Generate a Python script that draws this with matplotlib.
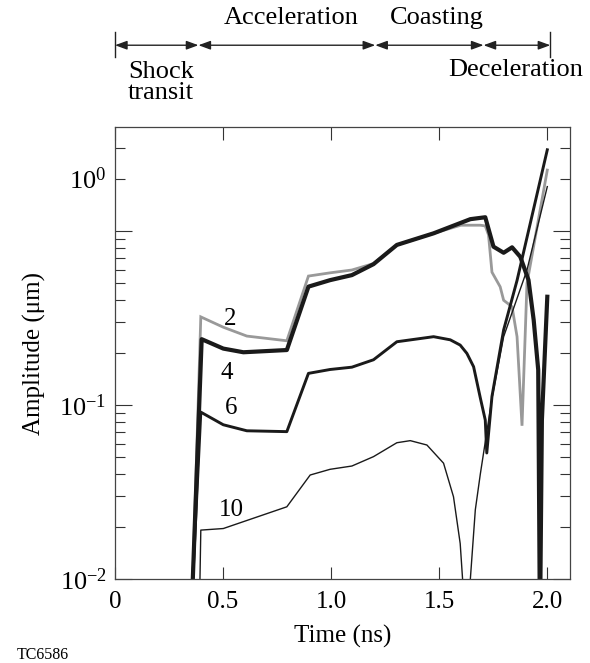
import numpy as np
import matplotlib
matplotlib.use("Agg")
import matplotlib.pyplot as plt
import matplotlib.transforms as mtransforms
from matplotlib.ticker import FixedLocator, FuncFormatter, NullLocator

# mode amplitudes vs time, one series per Legendre mode number
t_2 = [0.36, 0.397, 0.501, 0.61, 0.795, 0.895, 0.995, 1.096, 1.196, 1.304,
       1.474, 1.60, 1.69, 1.713, 1.728, 1.744, 1.782, 1.798, 1.837, 1.86,
       1.883, 1.906, 2.0]
a_2 = [0.01, 0.321, 0.280, 0.249, 0.234, 0.551, 0.575, 0.597, 0.65, 0.832,
       0.97, 1.08, 1.08, 1.07, 0.95, 0.58, 0.478, 0.40, 0.367, 0.247,
       0.076, 0.50, 2.24]

t_4 = [0.36, 0.401, 0.501, 0.594, 0.795, 0.895, 0.995, 1.096, 1.196, 1.304,
       1.474, 1.644, 1.713, 1.751, 1.798, 1.837, 1.875, 1.913, 1.937, 1.958,
       1.966, 1.975, 2.0]
a_4 = [0.01, 0.239, 0.211, 0.201, 0.207, 0.479, 0.522, 0.558, 0.645, 0.832,
       0.97, 1.17, 1.20, 0.813, 0.750, 0.806, 0.711, 0.523, 0.308, 0.159,
       0.005, 0.082, 0.419]

t_6 = [0.36, 0.397, 0.501, 0.61, 0.795, 0.895, 0.995, 1.096, 1.196, 1.304,
       1.474, 1.551, 1.597, 1.628, 1.659, 1.69, 1.713, 1.72, 1.744, 1.798,
       1.86, 2.0]
a_6 = [0.01, 0.091, 0.077, 0.0711, 0.0703, 0.152, 0.160, 0.165, 0.182, 0.231,
       0.247, 0.237, 0.221, 0.198, 0.166, 0.11, 0.082, 0.053, 0.112, 0.27,
       0.52, 2.93]

t_10 = [0.389, 0.397, 0.501, 0.795, 0.903, 0.995, 1.096, 1.196, 1.304, 1.366,
        1.443, 1.52, 1.566, 1.597, 1.608, 1.625, 1.644, 1.667, 1.69, 1.744,
        1.798, 1.852, 1.906, 2.0]
a_10 = [0.005, 0.0191, 0.0195, 0.026, 0.0396, 0.0427, 0.0446, 0.0505, 0.0607, 0.0624,
        0.0589, 0.0463, 0.0297, 0.016, 0.01, 0.004, 0.01, 0.025, 0.04, 0.109,
        0.247, 0.384, 0.597, 1.80]

phase_edges = [0.0, 0.386, 1.204, 1.705, 2.014]

plt.rcParams.update({
    "font.family": "Liberation Serif",
    "mathtext.fontset": "custom",
    "mathtext.rm": "Liberation Serif",
    "mathtext.it": "Liberation Serif:italic",
    "font.size": 18,
})

fig = plt.figure(figsize=(5.9, 6.63), dpi=100)
ax = fig.add_axes([0.1949, 0.1267, 0.7712, 0.6817])

ax.plot(t_2, a_2, color="#999999", lw=2.0, solid_joinstyle="miter")
ax.plot(t_4, a_4, color="#1a1a1a", lw=3.0)
ax.plot(t_6, a_6, color="#1a1a1a", lw=2.1)
ax.plot(t_10, a_10, color="#1a1a1a", lw=1.0)

ax.set_yscale("log")
ax.set_xlim(0, 2.105)
ax.set_ylim(0.01, 3.96)

ax.set_xticks([0, 0.5, 1.0, 1.5, 2.0])
ax.set_xticklabels(["0", "0.5", "1.0", "1.5", "2.0"])
ax.xaxis.set_minor_locator(NullLocator())

ax.yaxis.set_major_locator(FixedLocator([0.01, 0.1, 1.0]))
ax.yaxis.set_major_formatter(FuncFormatter(
    lambda v, pos: {0.01: r"$10^{-2}$", 0.1: r"$10^{-1}$"}.get(round(v, 3), "")))
minor_y = [k * 0.01 for k in range(2, 10)] + [k * 0.1 for k in range(2, 10)] + [2.0, 3.0]
ax.yaxis.set_minor_locator(FixedLocator(minor_y))
ax.yaxis.set_minor_formatter(FuncFormatter(
    lambda v, pos: r"$10^{0}$" if abs(v - 2.0) < 1e-6 else ""))

ax.tick_params(axis="x", which="major", direction="in", length=9, width=0.8,
               top=True, pad=9, color="#333333")
ax.tick_params(axis="y", which="major", direction="in", length=12, width=0.8,
               right=True, pad=6, color="#333333", labelsize=19)
ax.tick_params(axis="y", which="minor", direction="in", length=7, width=0.8,
               right=True, pad=6, color="#333333", labelsize=19)
for s in ax.spines.values():
    s.set_color("#444444")
    s.set_linewidth(0.9)

ax.set_xlabel("Time (ns)", labelpad=8)
ax.set_ylabel("Amplitude (μm)", labelpad=10)

# mode numbers next to each curve
ax.text(0.532, 0.312, "2", ha="center", va="center")
ax.text(0.517, 0.152, "4", ha="center", va="center")
ax.text(0.536, 0.0957, "6", ha="center", va="center")
ax.text(0.54, 0.0249, "10", ha="center", va="center")

# implosion phases above the axes
trans = mtransforms.blended_transform_factory(ax.transData, ax.transAxes)
y_arr = 1.181
for x0, x1 in zip(phase_edges[:-1], phase_edges[1:]):
    ax.annotate("", xy=(x1, y_arr), xytext=(x0, y_arr), xycoords=trans,
                textcoords=trans,
                arrowprops=dict(arrowstyle="<|-|>,head_length=0.6,head_width=0.22",
                                lw=1.0, color="#222222", shrinkA=0, shrinkB=0,
                                mutation_scale=12))
for xe in (phase_edges[0], phase_edges[-1]):
    ax.plot([xe, xe], [1.155, 1.21], color="#222222", lw=1.0,
            transform=trans, clip_on=False)

ax.text(0.815, 1.241, "Acceleration", transform=trans, ha="center", va="center", fontsize=19)
ax.text(1.49, 1.241, "Coasting", transform=trans, ha="center", va="center", fontsize=19)
ax.text(0.06, 1.098, "Shock\ntransit", transform=trans, ha="left", va="center",
        fontsize=19, linespacing=0.95)
ax.text(1.852, 1.126, "Deceleration", transform=trans, ha="center", va="center", fontsize=19)

fig.text(17 / 590, 1 - 655 / 663, "TC6586", fontsize=11.5, ha="left", va="center")

fig.savefig("out.png", dpi=100)
